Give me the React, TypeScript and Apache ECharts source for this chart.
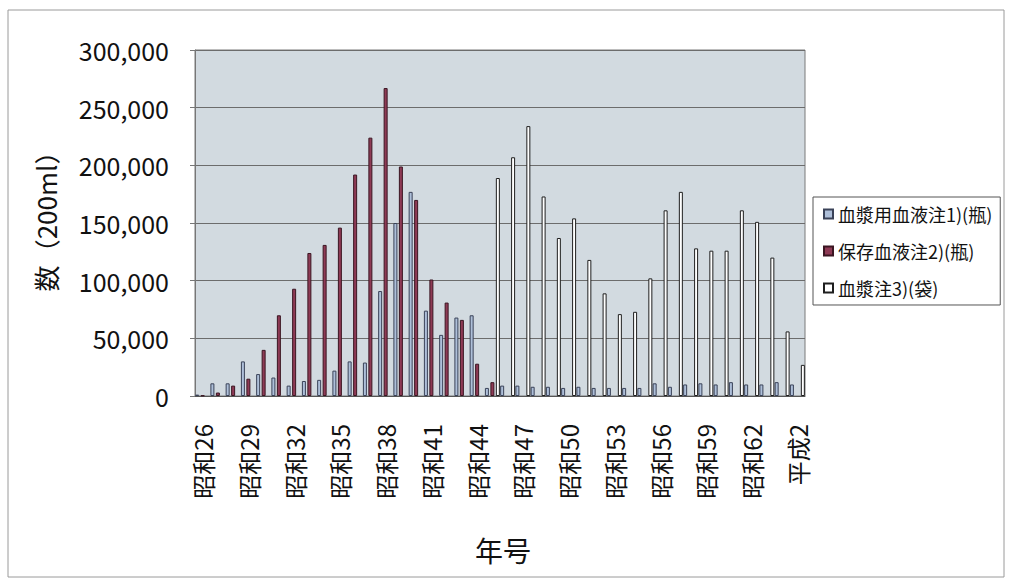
import React, { useEffect, useRef } from "react";
import * as echarts from "echarts";

const categories = [
  "昭和26", "昭和27", "昭和28", "昭和29", "昭和30", "昭和31", "昭和32", "昭和33",
  "昭和34", "昭和35", "昭和36", "昭和37", "昭和38", "昭和39", "昭和40", "昭和41",
  "昭和42", "昭和43", "昭和44", "昭和45", "昭和46", "昭和47", "昭和48", "昭和49",
  "昭和50", "昭和51", "昭和52", "昭和53", "昭和54", "昭和55", "昭和56", "昭和57",
  "昭和58", "昭和59", "昭和60", "昭和61", "昭和62", "昭和63", "平成1", "平成2",
];

// 血漿用血液注1)(瓶)
const plasmaBloodBottles = [
  1200, 11000, 11000, 30000, 19000, 16000, 9000, 13000,
  14000, 22000, 30000, 29000, 91000, 150000, 177000, 74000,
  53000, 68000, 70000, 7000, 9000, 9000, 8000, 8000,
  7000, 8000, 7000, 7000, 7000, 7000, 11000, 8000,
  10000, 11000, 10000, 12000, 10000, 10000, 12000, 10000,
];

// 保存血液注2)(瓶)
const storedBloodBottles = [
  500, 3000, 9000, 15000, 40000, 70000, 93000, 124000,
  131000, 146000, 192000, 224000, 267000, 199000, 170000, 101000,
  81000, 66000, 28000, 12000, null, null, null, null,
  null, null, null, null, null, null, null, null,
  null, null, null, null, null, null, null, null,
];

// 血漿注3)(袋)
const plasmaBags = [
  null, null, null, null, null, null, null, null,
  null, null, null, null, null, null, null, null,
  null, null, null, 189000, 207000, 234000, 173000, 137000,
  154000, 118000, 89000, 71000, 73000, 102000, 161000, 177000,
  128000, 126000, 126000, 161000, 151000, 120000, 56000, 27000,
];

const seriesNames = ["血漿用血液注1)(瓶)", "保存血液注2)(瓶)", "血漿注3)(袋)"];

const FONT = '"Noto Sans CJK JP", "Noto Sans", sans-serif';

export default function App() {
  const ref = useRef<HTMLDivElement>(null);

  useEffect(() => {
    if (!ref.current) return;
    const chart = echarts.init(ref.current, null, { renderer: "svg" });
    const barCommon = {
      type: "bar" as const,
      barWidth: 4,
      barGap: "37%",
    };
    chart.setOption({
      animation: false,
      backgroundColor: "#ffffff",
      textStyle: { fontFamily: FONT },
      grid: {
        left: 195,
        right: 206,
        top: 50,
        bottom: 188,
        show: true,
        backgroundColor: "#d2dae0",
        borderColor: "#7a7a7a",
        borderWidth: 1,
      },
      legend: {
        orient: "vertical",
        left: 813,
        top: 197,
        icon: "rect",
        itemWidth: 9,
        itemHeight: 9,
        itemGap: 19,
        padding: [8, 8, 8, 10],
        backgroundColor: "#ffffff",
        borderColor: "#555555",
        borderWidth: 1,
        textStyle: { fontSize: 18, color: "#111", fontFamily: FONT },
        data: seriesNames,
      },
      xAxis: {
        type: "category",
        data: categories,
        boundaryGap: true,
        axisLine: { lineStyle: { color: "#555" } },
        axisTick: { show: false },
        axisLabel: {
          interval: 2,
          rotate: 90,
          fontSize: 24,
          color: "#111",
          margin: 28,
          fontFamily: FONT,
        },
      },
      yAxis: {
        type: "value",
        min: 0,
        max: 300000,
        interval: 50000,
        axisLine: { show: true, lineStyle: { color: "#777" } },
        axisTick: { show: true, length: 5, lineStyle: { color: "#777" } },
        splitLine: { lineStyle: { color: "#6c6c6c", width: 1 } },
        axisLabel: {
          fontSize: 25,
          color: "#111",
          margin: 26,
          fontFamily: FONT,
          formatter: (v: number) => v.toLocaleString("en-US"),
        },
      },
      graphic: [
        {
          type: "rect",
          silent: true,
          shape: { x: 8, y: 10, width: 996, height: 567 },
          style: { fill: "none", stroke: "#9a9a9a", lineWidth: 1 },
        },
        {
          type: "text",
          x: 45,
          y: 215,
          rotation: Math.PI / 2,
          style: {
            text: "数（200ml）",
            fontSize: 26,
            fill: "#111",
            align: "center",
            verticalAlign: "middle",
            fontFamily: FONT,
          },
        },
        {
          type: "text",
          x: 503,
          y: 550,
          style: {
            text: "年号",
            fontSize: 28,
            fill: "#111",
            align: "center",
            verticalAlign: "middle",
            fontFamily: FONT,
          },
        },
      ],
      series: [
        {
          ...barCommon,
          name: seriesNames[0],
          data: plasmaBloodBottles,
          itemStyle: { color: "#aebfd9", borderColor: "#3a4258", borderWidth: 1 },
        },
        {
          ...barCommon,
          name: seriesNames[1],
          data: storedBloodBottles,
          itemStyle: { color: "#8e3a55", borderColor: "#3b1622", borderWidth: 1 },
        },
        {
          ...barCommon,
          name: seriesNames[2],
          data: plasmaBags,
          itemStyle: { color: "#ffffff", borderColor: "#1e1e1e", borderWidth: 1 },
        },
      ],
    });
    return () => chart.dispose();
  }, []);

  return (
    <div
      ref={ref}
      style={{ position: "absolute", left: 0, top: 0, width: 1011, height: 584, background: "#fff" }}
    />
  );
}
